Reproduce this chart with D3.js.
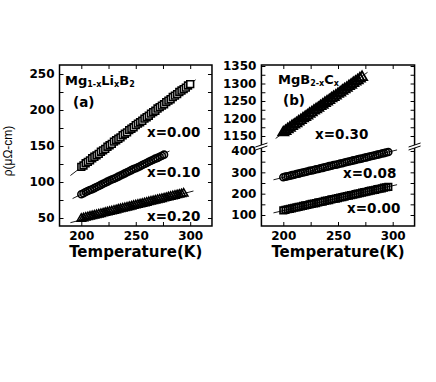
<!DOCTYPE html>
<html><head><meta charset="utf-8">
<script src="https://cdn.jsdelivr.net/npm/d3@7"></script>
<style>body{margin:0;background:#fff}svg{display:block}</style>
</head><body>
<svg id="c" width="436" height="382"></svg>
<script>
// ---------- data ----------
// measured temperatures (K), shared sampling grid; each series uses the first N entries
const tGrid = [200,202,204,206,208,210,212,214,216,218,220,222,224,226,228,230,232,234,236,238,240,242,244,246,248,250,252,254,256,258,260,262,264,266,268,270,272,274,276,278,280,282,284,286,288,290,292,294,296,298,300];
// Panel (a): Mg1-xLixB2, resistivity (μΩ-cm)
const rA0 = [121,123,126,128,130,133,135,137,139,142,144,146,149,151,153,156,158,160,162,165,167,169,172,174,176,179,181,183,185,188,190,192,195,197,199,202,204,206,208,211,213,215,218,220,222,225,227,229,231,234,236];
const rA1 = [83,84.5,86,87.5,89,90,91.5,93,94.5,96,97.5,99,100.5,102,103.5,104.5,106,107.5,109,110.5,112,113.5,115,116.5,118,119,120.5,122,123.5,125,126.5,128,129.5,131,132.5,133.5,135,136.5,138];
const rA2 = [49,49.7,50.5,51.2,52,52.7,53.5,54.2,55,55.7,56.4,57.2,57.9,58.7,59.4,60.2,60.9,61.7,62.4,63.1,63.9,64.6,65.4,66.1,66.9,67.6,68.4,69.1,69.8,70.6,71.3,72.1,72.8,73.6,74.3,75.1,75.8,76.5,77.3,78,78.8,79.5,80.3,81,81.8,82.5,83.2,84];
// Panel (b): MgB2-xCx
const rB30 = [1160,1164,1169,1173,1178,1182,1186,1191,1195,1200,1204,1208,1213,1217,1222,1226,1230,1235,1239,1244,1248,1252,1257,1261,1265,1270,1274,1279,1283,1287,1292,1296,1301,1305,1309,1314,1318];
const rB08 = [277,280,282,284,287,289,292,294,297,299,302,304,307,309,311,314,316,319,321,324,326,329,331,334,336,338,341,343,346,348,351,353,356,358,361,363,365,368,370,373,375,378,380,383,385,388,390,393,395];
const rB00 = [122,124,127,129,131,134,136,138,140,143,145,147,150,152,154,156,159,161,163,166,168,170,173,175,177,179,182,184,186,189,191,193,195,198,200,202,205,207,209,212,214,216,218,221,223,225,228,230,232];
// linear fits [T, rho] endpoints
const fitA0 = [[190,109],[305,242]];
const fitA1 = [[192,77],[281,143]];
const fitA2 = [[190,43.5],[303,87.5]];
const fitB30 = [[193,1143],[277,1332]];
const fitB08 = [[191,265],[304,405]];
const fitB00 = [[191,110],[304,242]];
// labels / ticks
const xTicks = [200,225,250,275,300];
const xLabels = [200,250,300];
const yTicksA = [50,75,100,125,150,175,200,225,250];
const yLabelsA = [50,100,150,200,250];
const yTicksBU = [1150,1175,1200,1225,1250,1275,1300,1325,1350];
const yLabelsBU = [1150,1200,1250,1300,1350];
const yTicksBL = [100,150,200,250,300,350,400];
const yLabelsBL = [100,200,300,400];
const seriesLabelsA = ["x=0.00","x=0.10","x=0.20"];
const seriesLabelsB = ["x=0.30","x=0.08","x=0.00"];

// ---------- drawing ----------
const svg = d3.select("#c");
const BF = "'DejaVu Sans', sans-serif";
const topY = 65, botY = 226, brk = 145.5;

function panel(x, yscales, clipId) {
  const [x0,x1] = [x(180), x(320)];
  const defs = svg.append("defs");
  yscales.forEach((s,i)=>{
    defs.append("clipPath").attr("id",clipId+i).append("rect")
      .attr("x",x0).attr("y",s.y0).attr("width",x1-x0).attr("height",s.y1-s.y0);
  });
  return {x0,x1};
}

function drawSeries(g, x, y, r, fit, sym, size, fill, sw, clip) {
  const gg = g.append("g").attr("clip-path", `url(#${clip})`);
  gg.append("line")
    .attr("x1", x(fit[0][0])).attr("y1", y(fit[0][1]))
    .attr("x2", x(fit[1][0])).attr("y2", y(fit[1][1]))
    .attr("stroke","#000").attr("stroke-width",0.9);
  const pts = r.map((v,i)=>[tGrid[i],v]);
  gg.selectAll("path.m").data(pts).join("path").attr("class","m")
    .attr("transform", d=>`translate(${x(d[0])},${y(d[1])})`)
    .attr("d", d3.symbol().type(sym).size(size))
    .attr("fill", fill).attr("stroke","#000").attr("stroke-width",sw);
}

function frameAndAxes(g, x, x0, x1, yparts) {
  const xb = d3.axisBottom(x).tickValues(xTicks).tickSize(-4).tickPadding(5)
    .tickFormat(d => xLabels.includes(d) ? d : "");
  const gx = g.append("g").attr("transform",`translate(0,${botY})`).call(xb);
  gx.select(".domain").remove();
  gx.selectAll("text").attr("font-family",BF).attr("font-weight","bold").attr("font-size",12).attr("fill","#000");
  const gt = g.append("g").attr("transform",`translate(0,${topY})`)
    .call(d3.axisTop(x).tickValues(xTicks).tickSize(-4).tickFormat(""));
  gt.select(".domain").remove();
  yparts.forEach(p=>{
    const gl = g.append("g").attr("transform",`translate(${x0},0)`)
      .call(d3.axisLeft(p.y).tickValues(p.ticks).tickSize(-4).tickPadding(5)
        .tickFormat(d => p.labels.includes(d) ? d : ""));
    gl.select(".domain").remove();
    gl.selectAll("text").attr("font-family",BF).attr("font-weight","bold").attr("font-size",12).attr("fill","#000");
    const gr = g.append("g").attr("transform",`translate(${x1},0)`)
      .call(d3.axisRight(p.y).tickValues(p.ticks).tickSize(-4).tickFormat(""));
    gr.select(".domain").remove();
  });
  g.selectAll(".tick line").attr("stroke","#000").attr("stroke-width",1);
  g.append("rect").attr("x",x0).attr("y",topY).attr("width",x1-x0).attr("height",botY-topY)
    .attr("fill","none").attr("stroke","#000").attr("stroke-width",1.5);
  g.append("text").attr("x",(x0+x1)/2).attr("y",257).attr("text-anchor","middle")
    .attr("font-family",BF).attr("font-weight","bold").attr("font-size",15).text("Temperature(K)");
}

// ---- Panel (a)
const xA = d3.scaleLinear().domain([200,300]).range([81.3,190.2]);
const yA = d3.scaleLinear().domain([50,250]).range([218,74]);
const gA = svg.append("g");
const pa = panel(xA, [{y0:topY,y1:botY}], "clipA");
drawSeries(gA,xA,yA,rA0,fitA0,d3.symbolSquare,46,"#fff",1.6,"clipA0");
drawSeries(gA,xA,yA,rA1,fitA1,d3.symbolCircle,38,"none",1.6,"clipA0");
drawSeries(gA,xA,yA,rA2,fitA2,d3.symbolTriangle,32,"none",1.5,"clipA0");
frameAndAxes(gA,xA,pa.x0,pa.x1,[{y:yA,ticks:yTicksA,labels:yLabelsA}]);

// ---- Panel (b)
const xB = d3.scaleLinear().domain([200,300]).range([283.3,392.7]);
const yBU = d3.scaleLinear().domain([1150,1350]).range([136,66]);
const yBL = d3.scaleLinear().domain([100,400]).range([215,151]);
const gB = svg.append("g");
const pb = panel(xB, [{y0:topY,y1:brk},{y0:brk,y1:botY}], "clipB");
drawSeries(gB,xB,yBU,rB30,fitB30,d3.symbolTriangle,44,"none",1.8,"clipB0");
drawSeries(gB,xB,yBL,rB08,fitB08,d3.symbolCircle,38,"none",1.6,"clipB1");
drawSeries(gB,xB,yBL,rB00,fitB00,d3.symbolSquare,42,"none",1.7,"clipB1");
frameAndAxes(gB,xB,pb.x0,pb.x1,[
  {y:yBU,ticks:yTicksBU,labels:yLabelsBU},
  {y:yBL,ticks:yTicksBL,labels:yLabelsBL}]);
[pb.x0,pb.x1].forEach(xx=>{
  gB.append("path").attr("d",`M${xx-6},${brk+1.5} L${xx+6},${brk-2.5} L${xx+6},${brk+0.5} L${xx-6},${brk+4.5}Z`)
    .attr("fill","#fff").attr("stroke","none");
  gB.append("line").attr("x1",xx-6).attr("y1",brk+1.5).attr("x2",xx+6).attr("y2",brk-2.5).attr("stroke","#000").attr("stroke-width",1);
  gB.append("line").attr("x1",xx-6).attr("y1",brk+4.5).attr("x2",xx+6).attr("y2",brk+0.5).attr("stroke","#000").attr("stroke-width",1);
});

// ---- annotations
function label(x,y,txt,size){
  svg.append("text").attr("x",x).attr("y",y).attr("font-family",BF).attr("font-weight","bold")
    .attr("font-size",size).text(txt);
}
seriesLabelsA.forEach((s,i)=> label(147,[137,177,221][i],s,13.5));
seriesLabelsB.forEach((s,i)=> label([315,343,347][i],[139,178,213][i],s,13.5));
label(73,107,"(a)",13.5);
label(283,105,"(b)",13.5);

const tA = svg.append("text").attr("x",65).attr("y",85).attr("font-family",BF).attr("font-weight","bold").attr("font-size",13);
tA.append("tspan").text("Mg");
tA.append("tspan").attr("font-size",8).attr("dy",2).text("1-x");
tA.append("tspan").attr("dy",-2).text("Li");
tA.append("tspan").attr("font-size",8).attr("dy",2).text("x");
tA.append("tspan").attr("dy",-2).text("B");
tA.append("tspan").attr("font-size",8).attr("dy",2).text("2");

const tB = svg.append("text").attr("x",278).attr("y",84).attr("font-family",BF).attr("font-weight","bold").attr("font-size",13);
tB.append("tspan").text("MgB");
tB.append("tspan").attr("font-size",8).attr("dy",2).text("2-x");
tB.append("tspan").attr("dy",-2).text("C");
tB.append("tspan").attr("font-size",8).attr("dy",2).text("x");

svg.append("text").attr("transform","translate(12,151) rotate(-90)").attr("text-anchor","middle")
  .attr("font-family","'Liberation Sans', Arial, sans-serif").attr("font-size",12).text("ρ(μΩ-cm)");
</script>
</body></html>
